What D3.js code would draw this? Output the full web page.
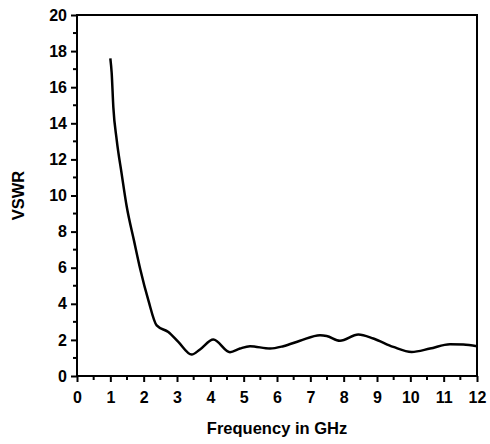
<!DOCTYPE html>
<html>
<head>
<meta charset="utf-8">
<script src="https://cdn.jsdelivr.net/npm/d3@7"></script>
<style>
  body { margin: 0; background: #fff; }
  text { font-family: "Liberation Sans", Arial, sans-serif; font-weight: bold; fill: #000; }
</style>
</head>
<body>
<div id="chart"></div>
<script>
'use strict';

// VSWR curve
let freq = [1.0, 1.04, 1.09, 1.19, 1.34, 1.49, 1.71, 1.9, 2.14, 2.39, 2.74, 3.04, 3.44, 3.69, 4.09,
            4.59, 4.89, 5.19, 5.79, 6.19, 6.69, 7.29, 7.49, 7.89, 8.44, 8.89, 9.49, 10.04, 10.59,
            11.19, 11.59, 12.0];
let vswr = [17.6, 16.8, 14.9, 13.1, 11.2, 9.4, 7.5, 5.9, 4.2, 2.8, 2.44, 1.89, 1.19, 1.47, 2.02,
            1.32, 1.52, 1.65, 1.52, 1.65, 1.95, 2.26, 2.22, 1.95, 2.3, 2.08, 1.61, 1.33, 1.52,
            1.76, 1.74, 1.65];

let xTicks = d3.range(0, 13, 1);
let yTicks = d3.range(0, 21, 2);

let w = 490;
let h = 444;
let mLeft = 77, mRight = 477, mTop = 15, mBottom = 376;

let x = d3.scaleLinear().domain([0, 12]).range([mLeft, mRight]);
let y = d3.scaleLinear().domain([0, 20]).range([mBottom, mTop]);

let svg = d3.select('#chart').append('svg')
	.attr('width', w)
	.attr('height', h);

// frame
svg.append('rect')
	.attr('x', mLeft)
	.attr('y', mTop)
	.attr('width', mRight - mLeft)
	.attr('height', mBottom - mTop)
	.attr('fill', 'none')
	.attr('stroke', '#000')
	.attr('stroke-width', 2);

// x axis
let xAxis = svg.append('g')
	.attr('transform', `translate(0,${mBottom})`)
	.call(d3.axisBottom(x).tickValues(xTicks).tickSize(6).tickPadding(10).tickFormat(d3.format('d')));
xAxis.select('.domain').remove();
xAxis.selectAll('line').attr('stroke-width', 2);
xAxis.selectAll('text').attr('font-size', '16px').attr('font-family', null);

svg.append('g')
	.selectAll('line')
	.data(d3.range(0.5, 12, 1))
	.enter()
	.append('line')
	.attr('x1', d => x(d)).attr('x2', d => x(d))
	.attr('y1', mBottom).attr('y2', mBottom + 4)
	.attr('stroke', '#000')
	.attr('stroke-width', 2);

// y axis
let yAxis = svg.append('g')
	.attr('transform', `translate(${mLeft},0)`)
	.call(d3.axisLeft(y).tickValues(yTicks).tickSize(6).tickPadding(4).tickFormat(d3.format('d')));
yAxis.select('.domain').remove();
yAxis.selectAll('line').attr('stroke-width', 2);
yAxis.selectAll('text').attr('font-size', '16px').attr('font-family', null);

svg.append('g')
	.selectAll('line')
	.data(d3.range(1, 20, 2))
	.enter()
	.append('line')
	.attr('x1', mLeft - 4).attr('x2', mLeft)
	.attr('y1', d => y(d)).attr('y2', d => y(d))
	.attr('stroke', '#000')
	.attr('stroke-width', 2);

// curve
let line = d3.line()
	.x((d, i) => x(freq[i]))
	.y(d => y(d))
	.curve(d3.curveMonotoneX);

svg.append('path')
	.datum(vswr)
	.attr('d', line)
	.attr('fill', 'none')
	.attr('stroke', '#000')
	.attr('stroke-width', 2.5);

// titles
svg.append('text')
	.attr('x', (mLeft + mRight) / 2)
	.attr('y', 434)
	.attr('text-anchor', 'middle')
	.attr('font-size', '16.5px')
	.text('Frequency in GHz');

svg.append('text')
	.attr('transform', `translate(24,${(mTop + mBottom) / 2}) rotate(-90)`)
	.attr('text-anchor', 'middle')
	.attr('font-size', '16.5px')
	.text('VSWR');
</script>
</body>
</html>
